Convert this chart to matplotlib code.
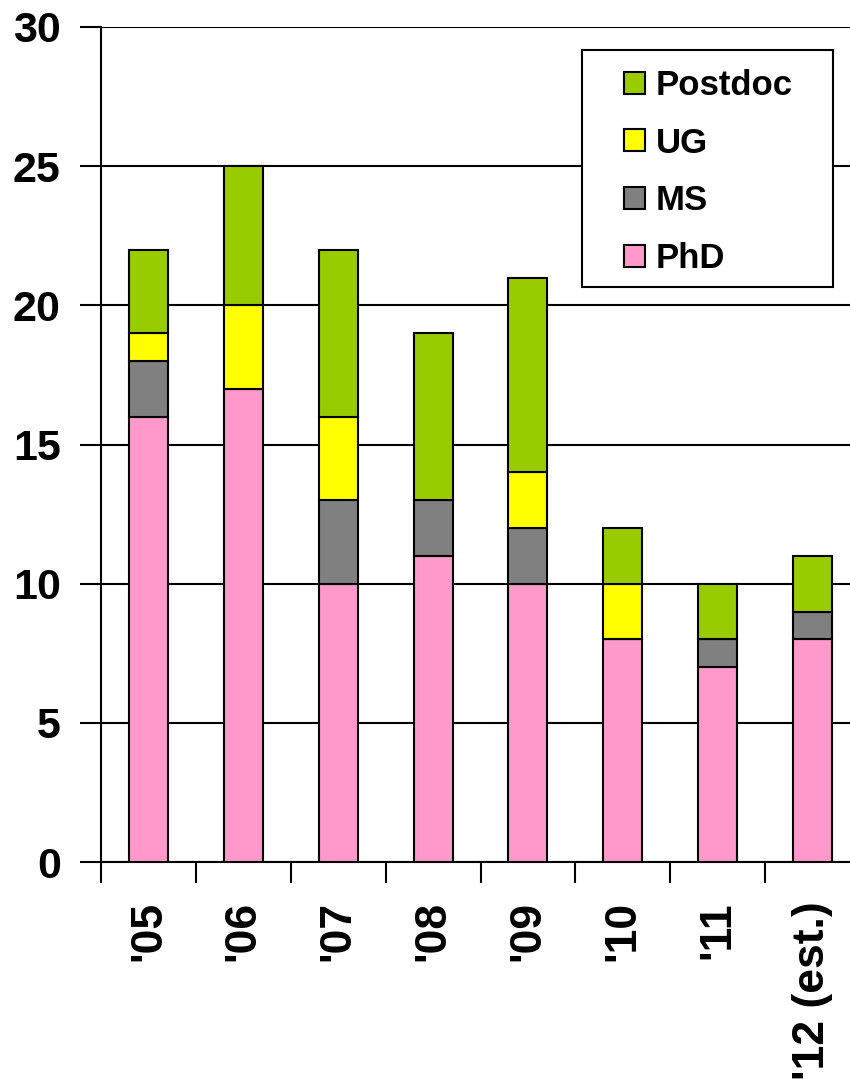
import numpy as np
import matplotlib.pyplot as plt
from matplotlib.patches import Rectangle

plt.rcParams['font.family'] = ['Liberation Sans', 'DejaVu Sans']
plt.rcParams['font.weight'] = 'bold'

# headcount per year, stacked bottom to top
years = ["'05", "'06", "'07", "'08", "'09", "'10", "'11", "'12 (est.)"]
phd = [16, 17, 10, 11, 10, 8, 7, 8]
ms = [2, 0, 3, 2, 2, 0, 1, 1]
ug = [1, 3, 3, 0, 2, 2, 0, 0]
postdoc = [3, 5, 6, 6, 7, 2, 2, 2]

series = [("PhD", phd, "#FF99CC"),
          ("MS", ms, "#808080"),
          ("UG", ug, "#FFFF00"),
          ("Postdoc", postdoc, "#99CC00")]

W, H = 850, 1079
fig = plt.figure(figsize=(W / 100, H / 100), dpi=100)
ax = fig.add_axes([101 / W, (H - 862) / H, (860 - 101) / W, (862 - 27) / H])

x = np.arange(len(years))
bottom = np.zeros(len(years))
bars = []
for name, vals, col in series:
    b = ax.bar(x, vals, width=0.41, bottom=bottom, color=col,
               edgecolor="black", linewidth=1.5, label=name, zorder=3)
    bars.append(b)
    bottom += np.array(vals)

ax.set_xlim(-0.5, len(years) - 0.5)
ax.set_ylim(0, 30)
ax.set_yticks(range(0, 31, 5))
ax.yaxis.grid(True, color="black", linewidth=1.5, zorder=0)
ax.set_axisbelow(True)

for s in ["top", "right"]:
    ax.spines[s].set_visible(False)
for s in ["left", "bottom"]:
    ax.spines[s].set_linewidth(1.5)

ax.set_xticks(x)
ax.set_xticklabels(years, rotation=90, fontsize=32, fontweight="bold")
ax.set_xticks(np.arange(-0.5, len(years), 1.0), minor=True)
ax.tick_params(axis="x", which="major", length=0, pad=28)
ax.tick_params(axis="x", which="minor", length=15, width=1.5)
ax.tick_params(axis="y", length=15, width=1.5, pad=14, labelsize=31)
for lab in ax.get_yticklabels():
    lab.set_fontweight("bold")

# legend box drawn separately so the padding can be wider than it is tall
box = Rectangle((582 / W, 1 - 287 / H), (833 - 582) / W, (287 - 50) / H,
                transform=fig.transFigure, facecolor="white",
                edgecolor="black", linewidth=1.5, zorder=5, clip_on=False)
ax.add_patch(box)

leg = ax.legend(bars[::-1], [s[0] for s in series[::-1]],
                loc="upper left", bbox_to_anchor=(624 / W, 1 - 69 / H),
                bbox_transform=fig.transFigure,
                prop={"weight": "bold", "size": 25},
                frameon=False, handlelength=0.6, handleheight=0.6,
                handletextpad=0.32, labelspacing=0.71, borderpad=0,
                borderaxespad=0)
leg.set_zorder(6)
for h in leg.legend_handles:
    h.set_linewidth(1.5)

fig.savefig("out.png", dpi=100)
